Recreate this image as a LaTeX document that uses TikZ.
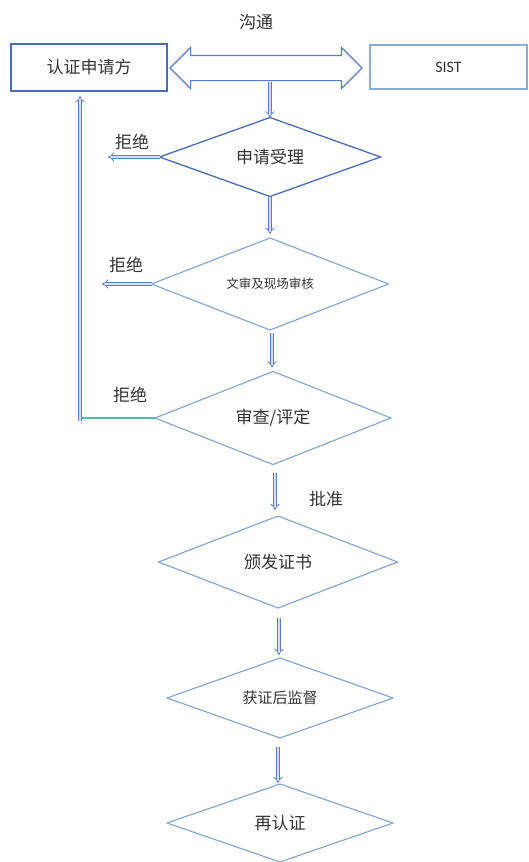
\documentclass[tikz,border=0pt]{standalone}
\usepackage{fontspec}
\setmainfont{Noto Sans CJK SC}
\newfontfamily\latinf{Carlito}
\usetikzlibrary{shapes.geometric,shapes.arrows,arrows.meta,calc}
\definecolor{dblue}{HTML}{4A6DB0}
\definecolor{lblue}{HTML}{7FA3D0}
\definecolor{abl}{HTML}{5A7EC2}
\definecolor{afill}{HTML}{D2DEF2}
\definecolor{teal2}{HTML}{4CC0B0}
\definecolor{txt}{HTML}{333333}
\begin{document}
\begin{tikzpicture}[x=1pt,y=-1pt,
 dia/.style={diamond, aspect=2.6, draw=lblue, line width=1.1pt, inner sep=0pt, outer sep=0pt, text=txt, font=\fontsize{17}{19}\selectfont},
 box/.style={rectangle, draw=dblue, line width=1.3pt, inner sep=0pt, outer sep=0pt, text=txt, font=\fontsize{17}{19}\selectfont},
 flow/.style={draw=abl, line width=0.8pt, double=afill, double distance=2.4pt, -{Implies[length=5pt,width=11pt]}},
 lbl/.style={text=txt, font=\fontsize{17}{19}\selectfont}]
\useasboundingbox (0,0) rectangle (528,862);
% boxes
\node[box, minimum width=156pt, minimum height=47pt] (app) at (89,67.5) {认证申请方};
\node[box, draw=lblue!90, minimum width=157pt, minimum height=44pt, font=\fontsize{16}{18}\selectfont] (sist) at (448.5,67) {\latinf SIST};
% communication arrow
\node[double arrow, draw=abl, line width=1.1pt, fill=white, inner xsep=0pt, inner ysep=12pt, outer sep=0pt,
      minimum height=192pt, double arrow head extend=8pt,
      double arrow tip angle=90] (comm) at (266,68) {};
\node[lbl] (commlbl) at (256,22) {沟通};
% diamonds
\node[dia, draw=dblue, line width=1.3pt, minimum width=221pt, minimum height=79pt] (d1) at (270,157) {申请受理};
\node[dia, minimum width=237pt, minimum height=92pt, font=\fontsize{12.5}{14}\selectfont] (d2) at (270,284) {文审及现场审核};
\node[dia, minimum width=236pt, minimum height=93pt] (d3) at (273,418) {审查/评定};
\node[dia, minimum width=239pt, minimum height=92pt] (d4) at (278,562) {颁发证书};
\node[dia, minimum width=226pt, minimum height=80pt, font=\fontsize{15}{17}\selectfont] (d5) at (280,698) {获证后监督};
\node[dia, minimum width=226pt, minimum height=78pt] (d6) at (280,823) {再认证};
% flow arrows
\draw[flow, shorten <=1pt] (d1.north |- comm.south) -- (d1.north);
\draw[flow, shorten >=4pt] (d1.south) -- (d1.south |- d2.north);
\draw[flow, shorten <=3pt, shorten >=4pt] ([xshift=2pt]d2.south) -- ([xshift=2pt]d2.south |- d3.north);
\draw[flow, shorten <=8pt, shorten >=6pt] ([xshift=2pt]d3.south) -- ([xshift=2pt]d3.south |- d4.north);
\draw[flow, shorten <=10pt, shorten >=3pt] ([xshift=1pt]d4.south) -- ([xshift=1pt]d4.south |- d5.north);
\draw[flow, shorten <=9pt, shorten >=1pt] ([xshift=-2pt]d5.south) -- ([xshift=-2pt]d5.south |- d6.north);
% rejections
\coordinate (r1) at (108,157);
\coordinate (r2) at (102,284);
\coordinate (c3) at (80,418);
\draw[flow] (d1.west) -- (r1);
\draw[flow] (d2.west) -- (r2);
\draw[teal2, line width=1.3pt] (d3.west) -- (c3);
\draw[flow, shorten <=-3pt, shorten >=5pt] (c3) -- (app.south -| c3);
\node[lbl] (rej1) at (132,142) {拒绝};
\node[lbl] (rej2) at (126,265) {拒绝};
\node[lbl] (rej3) at (130,395) {拒绝};
\node[lbl] (appr) at (326,499) {批准};
\end{tikzpicture}
\end{document}
